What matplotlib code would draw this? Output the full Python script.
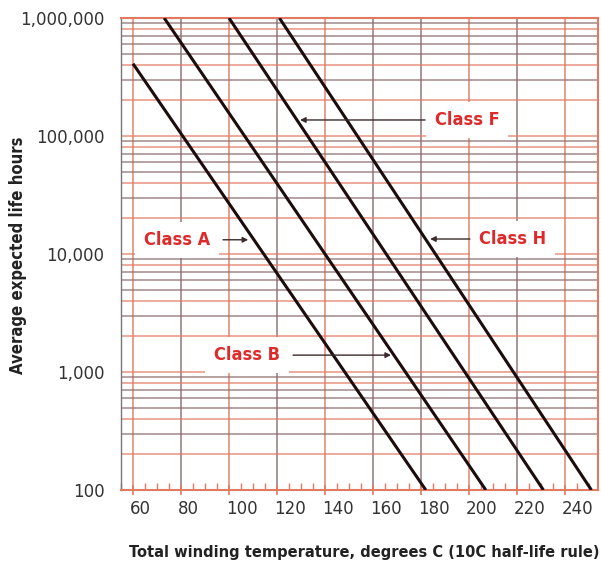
import numpy as np
import matplotlib
matplotlib.use('Agg')
import matplotlib.pyplot as plt
from matplotlib.ticker import FixedLocator, MultipleLocator, NullLocator
from matplotlib.transforms import ScaledTranslation

# Dati (temperatura, ore) agli estremi di ogni retta
classi = ['Class A', 'Class B', 'Class F', 'Class H']
temp_a = [60, 182]
ore_a = [410000, 100]
temp_b = [73, 207]
ore_b = [1000000, 100]
temp_f = [100, 231]
ore_f = [1000000, 100]
temp_h = [121, 251]
ore_h = [1000000, 100]

x_ticks = [60, 80, 100, 120, 140, 160, 180, 200, 220, 240]
y_ticks = [100, 1000, 10000, 100000, 1000000]
y_labels = ['100', '1,000', '10,000', '100,000', '1,000,000']

ROSSO = '#e27a62'
SCURO = '#8a6e6e'
ROSSO_TESTO = '#dd2a2a'

fig = plt.figure(figsize=(6.01, 5.65), dpi=100)
ax = fig.add_axes([121 / 601, 75 / 565, 477 / 601, 472 / 565])
ax.set_yscale('log')
ax.set_xlim(55, 253.75)
ax.set_ylim(100, 1000000)

# griglia verticale: rosso / scuro alternati
col_vert = [ROSSO, SCURO, ROSSO, SCURO, ROSSO, SCURO, SCURO, ROSSO, SCURO, ROSSO]
for t, c in zip(x_ticks, col_vert):
    ax.axvline(t, color=c, lw=1.2, alpha=0.85, zorder=1)

# griglia orizzontale (carta logaritmica)
rossi = [1, 2, 4, 8]
for dec in [100, 1000, 10000, 100000]:
    for k in range(1, 10):
        c = ROSSO if k in rossi else SCURO
        ax.axhline(k * dec, color=c, lw=1.1, alpha=0.8, zorder=1)
ax.axhline(1000000, color=ROSSO, lw=1.5, zorder=1)

# rette delle classi
for tt, oo in [(temp_a, ore_a), (temp_b, ore_b), (temp_f, ore_f), (temp_h, ore_h)]:
    ax.plot(tt, oo, color='#1c0c0c', lw=2.2, zorder=3, solid_capstyle='butt')

# etichette con freccia
freccia = dict(arrowstyle='-|>', color='#3a2a2a', lw=1.0, mutation_scale=8,
               shrinkA=0, shrinkB=0)
box = dict(boxstyle='square,pad=0.5', facecolor='white', edgecolor='none')
etichette = [
    ('Class A', (78.5, 13200), (97.5, 13200), (108, 13200)),
    ('Class B', (107.5, 1390), (126.7, 1390), (167.5, 1390)),
    ('Class F', (199.2, 136700), (181.7, 136700), (129.6, 136700)),
    ('Class H', (218.0, 13400), (200.4, 13400), (183.8, 13400)),
]
for testo, pos_t, a_da, a_a in etichette:
    ax.text(pos_t[0], pos_t[1], testo, color=ROSSO_TESTO, fontsize=13,
            fontweight='bold', fontstretch='condensed', ha='center', va='center',
            bbox=box, zorder=4)
    ax.annotate('', xy=a_a, xytext=a_da, arrowprops=freccia, zorder=4)

# assi
ax.xaxis.set_major_locator(FixedLocator(x_ticks))
ax.xaxis.set_minor_locator(MultipleLocator(5))
ax.set_xticklabels([str(t) for t in x_ticks])
ax.yaxis.set_major_locator(FixedLocator(y_ticks))
ax.yaxis.set_minor_locator(NullLocator())
ax.set_yticklabels(y_labels)

ax.tick_params(axis='x', which='major', direction='inout', length=7, width=1.2,
               color=ROSSO, labelsize=12, labelcolor='#333333', pad=4)
ax.tick_params(axis='x', which='minor', direction='in', length=5, width=1.0,
               color=ROSSO)
ax.tick_params(axis='y', which='major', length=0, labelsize=12,
               labelcolor='#333333', pad=12)
for lab in ax.get_xticklabels():
    lab.set_horizontalalignment('left')
    lab.set_transform(lab.get_transform() + ScaledTranslation(-3 / 100, 0, fig.dpi_scale_trans))

for lato in ['top', 'right', 'bottom']:
    ax.spines[lato].set_color(ROSSO)
    ax.spines[lato].set_linewidth(1.5)
ax.spines['left'].set_color('#777777')
ax.spines['left'].set_linewidth(1.0)

fig.text(364 / 601, 1 - 553 / 565, 'Total winding temperature, degrees C (10C half-life rule)',
         ha='center', va='center', fontsize=11.7, fontweight='bold', fontstretch='condensed',
         color='#222222')
fig.text(18 / 601, 1 - 255 / 565, 'Average expected life hours', rotation=90,
         ha='center', va='center', fontsize=12, fontweight='bold', fontstretch='condensed',
         color='#222222')

fig.savefig('out.png', dpi=100)
